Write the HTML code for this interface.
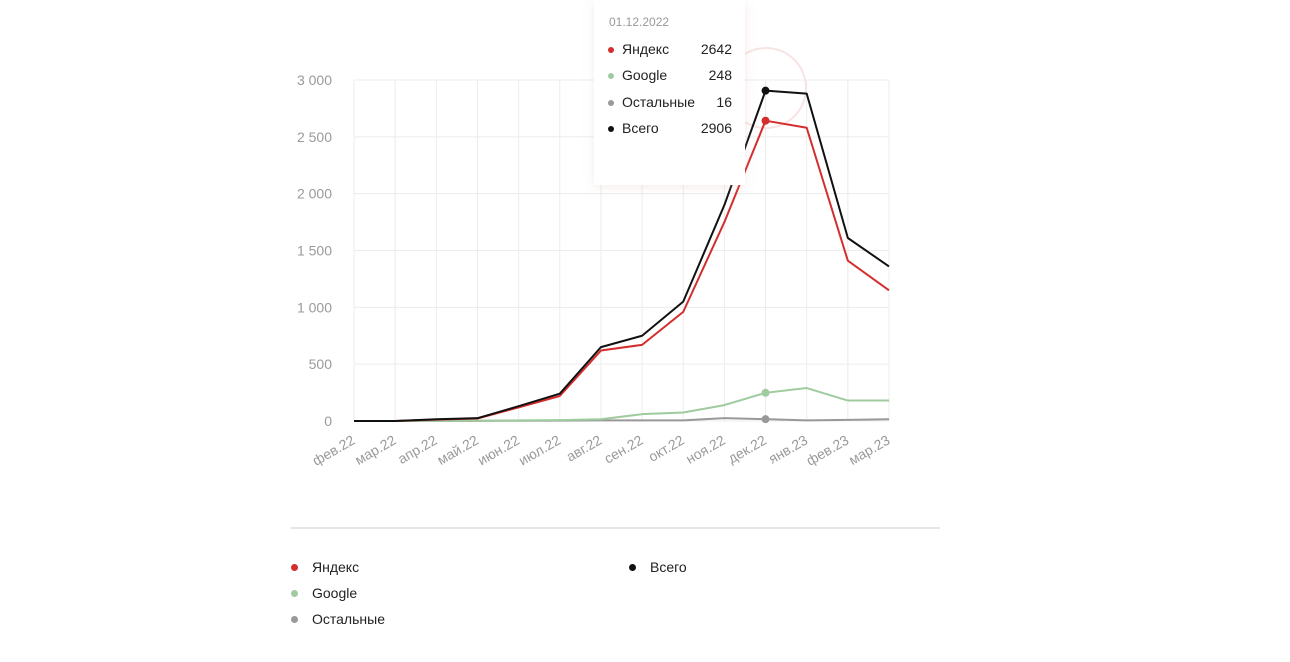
<!DOCTYPE html>
<html><head><meta charset="utf-8"><style>
body{margin:0;background:#fff;width:1290px;height:657px;overflow:hidden;font-family:"Liberation Sans",sans-serif;}
svg text{font-family:"Liberation Sans",sans-serif;}
.row{position:absolute;font-size:14px;color:#222;}
.dot{position:absolute;width:7px;height:7px;border-radius:50%;}
</style></head><body>
<svg id="c" width="1290" height="657"></svg>
<script>
const categories=["фев.22","мар.22","апр.22","май.22","июн.22","июл.22","авг.22","сен.22","окт.22","ноя.22","дек.22","янв.23","фев.23","мар.23"];
const yandex=[0,0,12,22,120,220,620,670,960,1750,2642,2580,1410,1150];
const google=[0,0,2,3,5,8,15,60,75,140,248,290,180,180];
const others=[0,0,1,1,2,3,5,5,5,25,16,5,10,15];
const total=[0,0,15,25,130,240,650,750,1050,1900,2906,2880,1610,1360];
const yTicks=[0,500,1000,1500,2000,2500,3000];
const yTickLabels=["0","500","1 000","1 500","2 000","2 500","3 000"];
const sel=10;
const NS="http://www.w3.org/2000/svg";
const svg=document.getElementById('c');
const X0=354,X1=889,Y0=421,Y1=80;
const x=i=>X0+(X1-X0)*i/(categories.length-1);
const y=v=>Y0-(Y0-Y1)*v/3000;
function el(t,a,p){const e=document.createElementNS(NS,t);for(const k in a)e.setAttribute(k,a[k]);(p||svg).appendChild(e);return e;}
const grid=el('g',{});


yTicks.forEach((v,i)=>{
 el('line',{x1:X0,x2:X1,y1:y(v),y2:y(v),stroke:'#ececec'},grid);
 const t=el('text',{x:332,y:y(v)+5,'text-anchor':'end','font-size':14,fill:'#9a9a9a'});
 t.textContent=yTickLabels[i];
 
 
});
categories.forEach((c,i)=>{
 el('line',{x1:x(i),x2:x(i),y1:Y1,y2:Y0,stroke:'#ececec'},grid);
 const t=el('text',{x:x(i)+2,y:Y0+22,'text-anchor':'end','font-size':14,fill:'#9a9a9a',transform:`rotate(-30 ${x(i)+2} ${Y0+22})`});
 t.textContent=c;
 
 
});
el('circle',{cx:766,cy:88,r:40,fill:'none',stroke:'#f8e4e4','stroke-width':2});
const series=[[others,'#999999','others-line'],[google,'#9fcb9f','google-line'],[yandex,'#d42d2d','yandex-line'],[total,'#111111','total-line']];
series.forEach(([d,col,n])=>{
 const p=el('polyline',{points:d.map((v,i)=>x(i)+','+y(v)).join(' '),fill:'none',stroke:col,'stroke-width':2,'stroke-linejoin':'round'});
 
 
 const m=el('circle',{cx:x(sel),cy:y(d[sel]),r:4,fill:col});
 
 
});
el('line',{x1:291,x2:940,y1:528,y2:528,stroke:'#dddddd','stroke-width':1.5});
</script>
<div style="position:absolute;left:594px;top:0;width:151px;height:185px;background:#fff;box-shadow:0 2px 10px rgba(220,180,180,0.25);">
<div style="position:absolute;left:15px;top:15px;color:#999;font-size:12px;">01.12.2022</div>
<div class="dot" style="left:14px;top:47px;width:6px;height:6px;background:#d42d2d"></div><div class="row" style="left:28px;top:41px;">Яндекс</div><div class="row" style="right:13px;top:41px;">2642</div>
<div class="dot" style="left:14px;top:73px;width:6px;height:6px;background:#9fcb9f"></div><div class="row" style="left:28px;top:67px;">Google</div><div class="row" style="right:13px;top:67px;">248</div>
<div class="dot" style="left:14px;top:100px;width:6px;height:6px;background:#999"></div><div class="row" style="left:28px;top:94px;">Остальные</div><div class="row" style="right:13px;top:94px;">16</div>
<div class="dot" style="left:14px;top:126px;width:6px;height:6px;background:#111"></div><div class="row" style="left:28px;top:120px;">Всего</div><div class="row" style="right:13px;top:120px;">2906</div>
</div>
<div>
<div><div class="dot" style="left:291px;top:564px;background:#d42d2d"></div><div class="row" style="left:312px;top:559px;">Яндекс</div></div>
<div><div class="dot" style="left:291px;top:590px;background:#9fcb9f"></div><div class="row" style="left:312px;top:585px;">Google</div></div>
<div><div class="dot" style="left:291px;top:616px;background:#999"></div><div class="row" style="left:312px;top:611px;">Остальные</div></div>
<div><div class="dot" style="left:629px;top:564px;background:#111"></div><div class="row" style="left:650px;top:559px;">Всего</div></div>
</div>
</body></html>
